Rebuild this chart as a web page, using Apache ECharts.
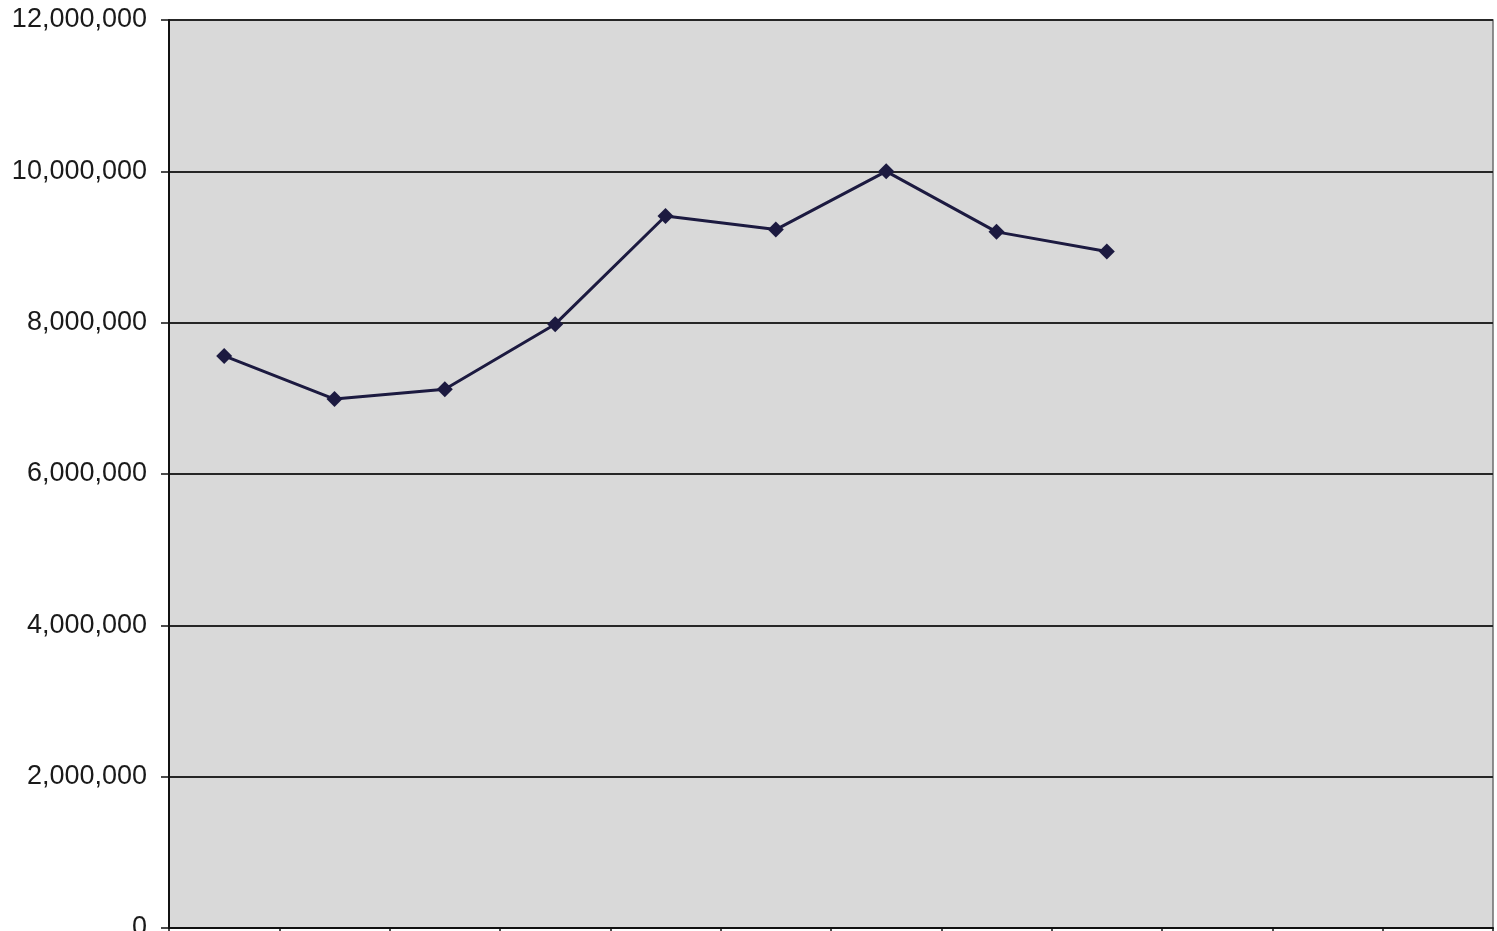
<!DOCTYPE html>
<html>
<head>
<meta charset="utf-8">
<script src="https://cdn.jsdelivr.net/npm/echarts@6/dist/echarts.min.js"></script>
<style>
  html, body { margin: 0; padding: 0; background: #ffffff; }
  #chart { width: 1497px; height: 931px; }
</style>
</head>
<body>
<div id="chart"></div>
<script>
// Twelve periods on the category axis; only the first nine have values.
const categories = ['1', '2', '3', '4', '5', '6', '7', '8', '9', '10', '11', '12'];
const values = [7560000, 6990000, 7120000, 7980000, 9410000, 9230000, 10000000, 9200000, 8940000];

// Value axis ticks.
const yMin = 0;
const yMax = 12000000;
const yStep = 2000000;

const formatThousands = v => String(v).replace(/\B(?=(\d{3})+(?!\d))/g, ',');

const chart = echarts.init(document.getElementById('chart'), null, { renderer: 'canvas' });

chart.setOption({
  animation: false,
  backgroundColor: '#ffffff',
  grid: {
    left: 169,
    right: 4,
    top: 20,
    bottom: 3,
    outerBoundsMode: 'none',
    containLabel: false,
    show: true,
    backgroundColor: '#d9d9d9',
    borderColor: '#6e6e6e',
    borderWidth: 1.5
  },
  xAxis: {
    type: 'category',
    data: categories,
    boundaryGap: true,
    axisLine: { show: true, lineStyle: { color: '#111111', width: 2 } },
    axisTick: { show: true, length: 8, lineStyle: { color: '#111111', width: 1.5 } },
    axisLabel: { show: false },
    splitLine: { show: false }
  },
  yAxis: {
    type: 'value',
    min: yMin,
    max: yMax,
    interval: yStep,
    axisLine: { show: true, lineStyle: { color: '#111111', width: 2 } },
    axisTick: { show: true, length: 8, lineStyle: { color: '#111111', width: 1.5 } },
    axisLabel: {
      margin: 22,
      fontFamily: 'Liberation Sans, Arial, sans-serif',
      fontSize: 27,
      color: '#1a1a1a',
      formatter: formatThousands
    },
    splitLine: { show: true, lineStyle: { color: '#262626', width: 1.8 } }
  },
  series: [{
    type: 'line',
    data: values,
    symbol: 'diamond',
    symbolSize: 16,
    lineStyle: { color: '#1c1a40', width: 3 },
    itemStyle: { color: '#1c1a40', borderWidth: 0 }
  }]
});
</script>
</body>
</html>
